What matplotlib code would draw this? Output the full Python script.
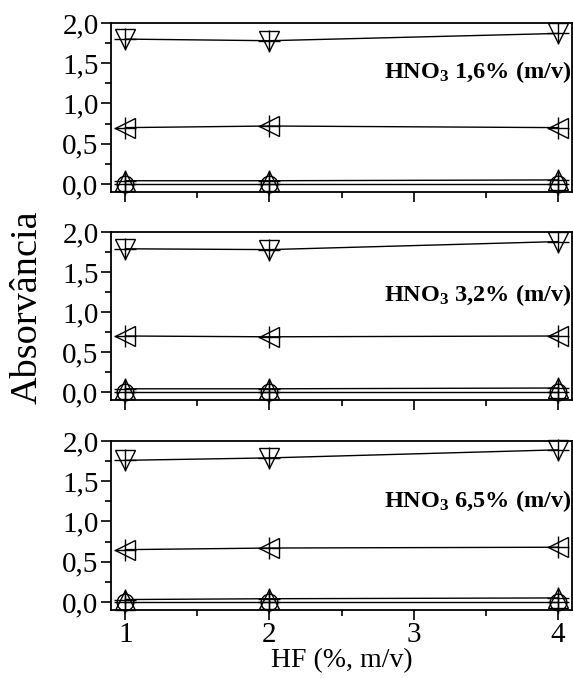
import matplotlib
matplotlib.use("Agg")
import matplotlib.pyplot as plt
from matplotlib.ticker import MultipleLocator, FixedLocator

plt.rcParams['font.family'] = ['Liberation Serif', 'DejaVu Serif']
plt.rcParams['mathtext.fontset'] = 'custom'
plt.rcParams['mathtext.rm'] = 'Liberation Serif'
plt.rcParams['mathtext.bf'] = 'Liberation Serif:bold'

hf = [1, 2, 4]
panel_labels = ["1,6%", "3,2%", "6,5%"]

# series per panel: down triangle, left triangle, up triangle, circle
down_tri = [[1.80, 1.78, 1.87], [1.79, 1.78, 1.88], [1.76, 1.79, 1.89]]
left_tri = [[0.70, 0.72, 0.70], [0.70, 0.69, 0.70], [0.65, 0.67, 0.68]]
up_tri = [[0.04, 0.04, 0.05], [0.04, 0.04, 0.05], [0.03, 0.04, 0.05]]
circle = [[0.00, 0.00, 0.00], [0.00, 0.00, 0.00], [0.00, 0.00, 0.00]]
label_y = [1.39, 1.21, 1.26]

W, H = 573, 678
fig = plt.figure(figsize=(W / 100, H / 100), dpi=100)
tops = [23, 232, 441]
bottoms = [192, 400, 610]
left_px, right_px = 111, 572

axes = []
for i in range(3):
    ax = fig.add_axes([left_px / W, 1 - bottoms[i] / H,
                       (right_px - left_px) / W, (bottoms[i] - tops[i]) / H])
    axes.append(ax)
    for series, mk, ms in [(down_tri[i], 'v', 14), (left_tri[i], '<', 14),
                           (up_tri[i], '^', 14), (circle[i], 'o', 12)]:
        ax.plot(hf, series, color='black', lw=1.0, marker=mk, ms=ms,
                mfc='none', mec='black', mew=1.0, clip_on=False, zorder=3)
        ax.plot(hf, series, ls='none', marker='+', ms=16, mec='black',
                mew=1.0, clip_on=False, zorder=4)
    ax.set_xlim(0.9, 4.1)
    ax.set_ylim(-0.1, 2.0)
    ax.xaxis.set_major_locator(FixedLocator([1, 2, 3, 4]))
    ax.xaxis.set_minor_locator(FixedLocator([1.5, 2.5, 3.5]))
    ax.yaxis.set_major_locator(MultipleLocator(0.5))
    ax.yaxis.set_minor_locator(MultipleLocator(0.25))
    ax.yaxis.set_major_formatter(plt.FuncFormatter(lambda v, p: f"{v:.1f}".replace('.', ',')))
    ax.tick_params(which='major', direction='out', length=7, width=1.2, labelsize=21, pad=2)
    ax.tick_params(which='minor', direction='out', length=4, width=1.2)
    for s in ax.spines.values():
        s.set_linewidth(1.3)
    if i < 2:
        ax.tick_params(axis='x', labelbottom=False)
    ax.text(0.998, label_y[i], r"$\mathbf{HNO_3}$ " + panel_labels[i] + " (m/v)",
            transform=ax.get_yaxis_transform(), ha='right', va='center',
            fontsize=17.5, fontweight='bold')

axes[2].set_xlabel("HF (%, m/v)", fontsize=20, labelpad=0)
fig.text(0.047, 1 - 307 / H, "Absorvância",
         rotation=90, fontsize=27.5, ha='center', va='center')

fig.savefig("out.png", dpi=100)
